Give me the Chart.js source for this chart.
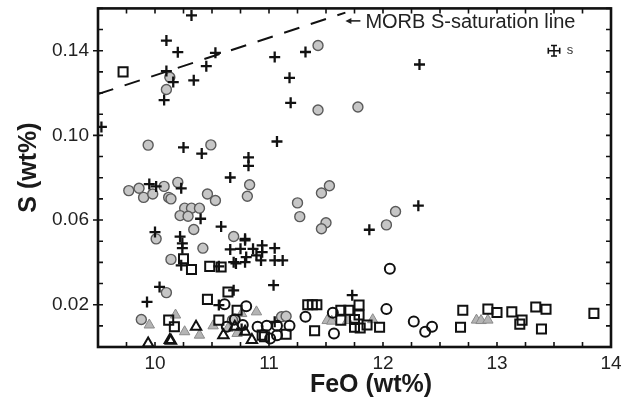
<!DOCTYPE html>
<html>
<head>
<meta charset="utf-8">
<script src="https://cdn.jsdelivr.net/npm/chart.js@4.4.0/dist/chart.umd.min.js"></script>
<style>
  body { margin: 0; background: #fff; }
  #wrap { width: 632px; height: 405px; }
</style>
</head>
<body>
<div id="wrap"><canvas id="graph" width="632" height="405"></canvas></div>
<script>
// FeO (wt%) and S (wt%) per sample group
const crossFeO = [10.32, 10.10, 10.20, 10.53, 10.10, 10.16, 10.45, 10.34, 10.08, 9.53, 11.05, 11.32, 11.18, 11.19, 12.32,
    10.25, 10.41, 10.82, 10.82, 10.66, 9.95, 10.01, 10.23, 10.40, 10.58, 10.00, 10.22, 10.79, 11.07, 11.88, 12.31,
    10.24, 10.24, 10.23, 10.56, 10.66, 10.75, 10.79, 10.86, 10.94, 10.94, 10.89, 10.80, 10.69, 10.79, 10.93, 11.05,
    11.05, 11.12, 10.71, 11.04, 10.04, 9.93, 10.69, 10.56, 11.05, 11.73, 10.76]
const crossS = [0.1567, 0.1448, 0.1393, 0.1390, 0.1304, 0.1252, 0.1327, 0.1260, 0.1167, 0.1040, 0.1370, 0.1394, 0.1272, 0.1154, 0.1335,
    0.0943, 0.0914, 0.0896, 0.0856, 0.0801, 0.0770, 0.0759, 0.0750, 0.0606, 0.0569, 0.0543, 0.0522, 0.0511, 0.0971, 0.0554, 0.0668,
    0.0490, 0.0467, 0.0386, 0.0381, 0.0461, 0.0464, 0.0504, 0.0464, 0.0480, 0.0448, 0.0433, 0.0425, 0.0401, 0.0401, 0.0409, 0.0467,
    0.0409, 0.0409, 0.0395, 0.0292, 0.0284, 0.0213, 0.0268, 0.0198, 0.0119, 0.0245, 0.0085]

const grayCircFeO = [10.13, 10.10, 11.43, 11.43, 11.78, 9.94, 10.49, 10.83, 10.81, 9.77, 9.86, 9.90, 9.98, 10.08, 10.12,
    10.14, 10.20, 10.46, 10.53, 10.26, 10.32, 10.39, 10.22, 10.29, 10.34, 10.01, 10.69, 11.53, 11.46, 11.25, 11.27,
    11.50, 11.46, 12.03, 12.11, 10.42, 10.14, 10.10, 9.88, 11.11, 11.15, 10.68]
const grayCircS = [0.1275, 0.1217, 0.1425, 0.1120, 0.1134, 0.0954, 0.0955, 0.0767, 0.0712, 0.0739, 0.0750, 0.0707, 0.0723, 0.0759, 0.0707,
    0.0700, 0.0778, 0.0723, 0.0692, 0.0656, 0.0656, 0.0656, 0.0621, 0.0618, 0.0555, 0.0511, 0.0522, 0.0762, 0.0728, 0.0681, 0.0616,
    0.0587, 0.0559, 0.0577, 0.0640, 0.0467, 0.0414, 0.0257, 0.0130, 0.0143, 0.0145, 0.0127]

const squareFeO = [9.72, 10.25, 10.32, 10.48, 10.58, 10.64, 10.46, 10.72, 10.12, 10.17, 10.56, 10.94, 10.96, 11.15, 11.40,
    11.34, 11.38, 11.42, 11.63, 11.70, 11.79, 11.79, 11.63, 11.75, 11.75, 11.86, 11.97, 11.80, 12.70, 12.68, 12.92,
    13.00, 13.13, 13.22, 13.20, 13.34, 13.43, 13.39, 13.85]
const squareS = [0.1300, 0.0417, 0.0366, 0.0381, 0.0378, 0.0260, 0.0225, 0.0174, 0.0127, 0.0096, 0.0127, 0.0056, 0.0048, 0.0060, 0.0077,
    0.0200, 0.0200, 0.0200, 0.0174, 0.0174, 0.0198, 0.0151, 0.0127, 0.0093, 0.0130, 0.0104, 0.0093, 0.0090, 0.0174, 0.0093, 0.0179,
    0.0163, 0.0166, 0.0127, 0.0108, 0.0189, 0.0178, 0.0085, 0.0159]

const openCircFeO = [10.61, 10.80, 10.63, 10.77, 10.90, 10.98, 11.01, 11.07, 11.07, 11.18, 11.32, 12.06, 11.56, 11.57,
    12.03, 12.27, 12.37, 12.43, 10.70]
const openCircS = [0.0202, 0.0193, 0.0096, 0.0104, 0.0096, 0.0100, 0.0040, 0.0056, 0.0100, 0.0100, 0.0143, 0.0370, 0.0162, 0.0064,
    0.0179, 0.0121, 0.0072, 0.0096, 0.0130]

const grayTriFeO = [10.89, 9.95, 10.18, 10.26, 10.39, 10.51, 10.72, 10.76, 10.64, 11.51, 11.55, 11.69, 11.91, 12.82, 12.86, 12.92]
const grayTriS = [0.0166, 0.0104, 0.0151, 0.0072, 0.0056, 0.0100, 0.0064, 0.0158, 0.0088, 0.0125, 0.0122, 0.0125, 0.0129, 0.0127, 0.0125, 0.0127]

const openTriFeO = [10.36, 10.60, 10.70, 10.79, 10.85, 9.94, 10.13, 10.14]
const openTriS = [0.0096, 0.0056, 0.0096, 0.0072, 0.0033, 0.0017, 0.0033, 0.0030]

// MORB S-saturation line
const morbFeO = [9.5, 11.67]
const morbS = [0.1195, 0.158]
const morbLabel = 'MORB S-saturation line'
const morbArrowTip = [11.67, 0.1541]

// typical analytical error, shown as a cross with caps
const errCenter = [13.5, 0.14]
const errFeO = 0.05
const errS = 0.0025

const xTicks = [10, 11, 12, 13, 14]
const yTicks = [0.02, 0.06, 0.10, 0.14]
const xTitle = 'FeO (wt%)'
const yTitle = 'S (wt%)'

const FONT = "'Liberation Sans', Arial, sans-serif"

function pts(xs, ys) {
    return xs.map((v, i) => ({x: v, y: ys[i]}))
}

const framePlugin = {
    id: 'frame',
    afterDatasetsDraw(chart) {
        const {ctx, chartArea: a, scales: {x, y}} = chart
        ctx.save()
        ctx.strokeStyle = '#111'
        ctx.lineWidth = 1.6
        ctx.beginPath()
        x.ticks.forEach(t => {
            const px = x.getPixelForValue(t.value)
            ctx.moveTo(px, a.bottom); ctx.lineTo(px, a.bottom - 5)
            ctx.moveTo(px, a.top); ctx.lineTo(px, a.top + 5)
        })
        y.ticks.forEach(t => {
            const py = y.getPixelForValue(t.value)
            const major = yTicks.some(v => Math.abs(v - t.value) < 1e-6)
            ctx.moveTo(major ? a.left - 5 : a.left, py); ctx.lineTo(a.left + 5, py)
            ctx.moveTo(a.right, py); ctx.lineTo(a.right - 5, py)
        })
        ctx.stroke()
        ctx.lineWidth = 2.6
        ctx.strokeRect(a.left, a.top, a.right - a.left, a.bottom - a.top)

        // error cross
        const cx = x.getPixelForValue(errCenter[0]), cy = y.getPixelForValue(errCenter[1])
        const x0 = x.getPixelForValue(errCenter[0] - errFeO), x1 = x.getPixelForValue(errCenter[0] + errFeO)
        const y0 = y.getPixelForValue(errCenter[1] - errS), y1 = y.getPixelForValue(errCenter[1] + errS)
        ctx.lineWidth = 1.6
        ctx.beginPath()
        ctx.moveTo(x0, cy); ctx.lineTo(x1, cy)
        ctx.moveTo(cx, y0); ctx.lineTo(cx, y1)
        ctx.moveTo(x0, cy - 3); ctx.lineTo(x0, cy + 3)
        ctx.moveTo(x1, cy - 3); ctx.lineTo(x1, cy + 3)
        ctx.moveTo(cx - 3, y0); ctx.lineTo(cx + 3, y0)
        ctx.moveTo(cx - 3, y1); ctx.lineTo(cx + 3, y1)
        ctx.stroke()
        ctx.fillStyle = '#333'
        ctx.font = '13px ' + FONT
        ctx.textBaseline = 'middle'
        ctx.fillText('s', x1 + 7, cy)

        // arrow + label
        const ax = x.getPixelForValue(morbArrowTip[0]), ay = y.getPixelForValue(morbArrowTip[1])
        ctx.strokeStyle = '#222'
        ctx.fillStyle = '#222'
        ctx.lineWidth = 1.6
        ctx.beginPath()
        ctx.moveTo(ax + 3, ay); ctx.lineTo(ax + 15, ay)
        ctx.stroke()
        ctx.beginPath()
        ctx.moveTo(ax, ay); ctx.lineTo(ax + 6, ay - 3); ctx.lineTo(ax + 6, ay + 3); ctx.closePath()
        ctx.fill()
        ctx.font = '20px ' + FONT
        ctx.fillText(morbLabel, ax + 20, ay + 2)

        // axis titles
        ctx.fillStyle = '#1a1a1a'
        ctx.font = 'bold 25px ' + FONT
        ctx.textAlign = 'center'
        ctx.fillText(xTitle, 371, 385)
        ctx.translate(29, 167.5)
        ctx.rotate(-Math.PI / 2)
        ctx.fillText(yTitle, 0, 0)
        ctx.restore()
    }
}

let ctx = document.getElementById('graph').getContext('2d')
new Chart(ctx, {
    type: 'scatter',
    data: {
        datasets: [{
            data: pts(morbFeO, morbS),
            showLine: true,
            pointRadius: 0,
            borderColor: '#111',
            borderWidth: 2,
            borderDash: [16, 12]
        }, {
            data: pts(crossFeO, crossS),
            pointStyle: 'cross',
            pointRadius: 5.5,
            borderColor: '#111',
            borderWidth: 2.3
        }, {
            data: pts(openTriFeO, openTriS),
            pointStyle: 'triangle',
            pointRadius: 6,
            backgroundColor: 'rgba(0,0,0,0)',
            borderColor: '#111',
            borderWidth: 2
        }, {
            data: pts(openCircFeO, openCircS),
            pointStyle: 'circle',
            pointRadius: 5,
            backgroundColor: 'rgba(0,0,0,0)',
            borderColor: '#111',
            borderWidth: 2
        }, {
            data: pts(squareFeO, squareS),
            pointStyle: 'rect',
            pointRadius: 6.4,
            backgroundColor: 'rgba(0,0,0,0)',
            borderColor: '#111',
            borderWidth: 2
        }, {
            data: pts(grayTriFeO, grayTriS),
            pointStyle: 'triangle',
            pointRadius: 6,
            backgroundColor: '#b4b4b4',
            borderColor: '#8a8a8a',
            borderWidth: 1
        }, {
            data: pts(grayCircFeO, grayCircS),
            pointStyle: 'circle',
            pointRadius: 5,
            backgroundColor: '#c6c6c6',
            borderColor: '#5a5a5a',
            borderWidth: 1.4
        }]
    },
    options: {
        responsive: false,
        animation: false,
        layout: {padding: {top: 7, right: 21, left: 0, bottom: 0}},
        plugins: {legend: {display: false}, tooltip: {enabled: false}},
        scales: {
            x: {
                min: 9.5,
                max: 14,
                grid: {display: false, drawTicks: false},
                border: {display: false},
                afterFit: s => { s.height = 58; s.paddingLeft = 0; s.paddingRight = 0 },
                ticks: {
                    stepSize: 0.25,
                    autoSkip: false,
                    maxRotation: 0,
                    padding: 5,
                    color: '#222',
                    font: {family: FONT, size: 19},
                    callback: v => xTicks.includes(v) ? String(v) : ''
                }
            },
            y: {
                min: 0,
                max: 0.16,
                grid: {display: false, drawTicks: false},
                border: {display: false},
                afterFit: s => { s.width = 98; s.paddingTop = 0; s.paddingBottom = 0 },
                ticks: {
                    stepSize: 0.01,
                    autoSkip: false,
                    padding: 9,
                    color: '#222',
                    font: {family: FONT, size: 19},
                    callback: v => yTicks.some(t => Math.abs(t - v) < 1e-6) ? v.toFixed(2) : ''
                }
            }
        }
    },
    plugins: [framePlugin]
});
</script>
</body>
</html>
